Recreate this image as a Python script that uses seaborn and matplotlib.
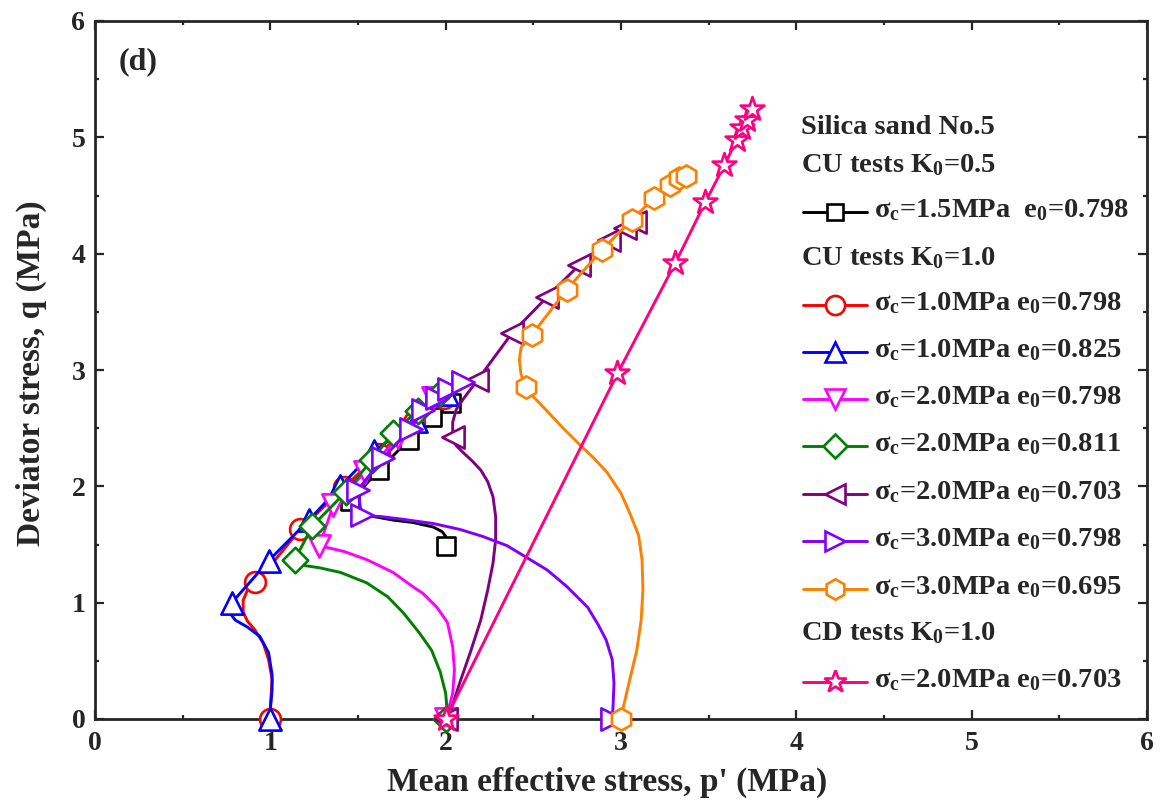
import numpy as np
import matplotlib
matplotlib.use("Agg")
import matplotlib.pyplot as plt
from matplotlib.lines import Line2D
import seaborn as sns

# ---- stress paths (p', q) in MPa ----
# K0 = 0.5 CU test
blk_p = [2.00, 2.00, 1.98, 1.93, 1.81, 1.70, 1.59, 1.51, 1.47, 1.455, 1.62, 1.79, 1.92, 2.04]
blk_q = [1.49, 1.57, 1.61, 1.65, 1.69, 1.71, 1.74, 1.78, 1.82, 1.87, 2.14, 2.40, 2.60, 2.72]
blk_mp = [2.00, 1.455, 1.62, 1.79, 1.92, 2.03]
blk_mq = [1.49, 1.87, 2.14, 2.40, 2.60, 2.72]

# K0 = 1.0 CU tests
red_p = [0.99, 1.00, 1.01, 0.99, 0.96, 0.91, 0.87, 0.845, 0.845, 0.87, 0.91, 0.98, 1.17,
         1.42, 1.62, 1.82, 1.99]
red_q = [0.00, 0.10, 0.34, 0.51, 0.65, 0.77, 0.84, 0.92, 1.02, 1.11, 1.18, 1.28, 1.63,
         1.99, 2.28, 2.55, 2.76]
red_mp = [1.00, 0.91, 1.17, 1.42, 1.62, 1.82, 1.99]
red_mq = [0.00, 1.18, 1.63, 1.99, 2.28, 2.55, 2.76]

blu_p = [0.99, 1.00, 1.01, 1.01, 0.99, 0.94, 0.87, 0.80, 0.765, 0.78, 0.88, 0.99, 1.22,
         1.40, 1.59, 1.83, 2.01]
blu_q = [0.00, 0.08, 0.25, 0.38, 0.57, 0.71, 0.79, 0.85, 0.92, 1.00, 1.17, 1.36, 1.71,
         2.00, 2.30, 2.56, 2.79]
blu_mp = [1.00, 0.78, 0.99, 1.22, 1.40, 1.59, 1.83, 2.01]
blu_mq = [0.00, 1.00, 1.36, 1.71, 2.00, 2.30, 2.56, 2.79]

mag_p = [2.00, 2.01, 2.04, 2.05, 2.04, 2.01, 1.95, 1.87, 1.81, 1.70, 1.55, 1.42, 1.28,
         1.36, 1.54, 1.73, 1.93]
mag_q = [0.00, 0.05, 0.22, 0.42, 0.62, 0.83, 0.96, 1.08, 1.14, 1.26, 1.37, 1.44, 1.49,
         1.84, 2.12, 2.42, 2.76]
mag_mp = [2.00, 1.28, 1.36, 1.54, 1.73, 1.93]
mag_mq = [0.00, 1.49, 1.84, 2.12, 2.42, 2.76]

grn_p = [2.00, 2.01, 2.00, 1.97, 1.92, 1.85, 1.76, 1.67, 1.55, 1.40, 1.28, 1.19, 1.14,
         1.24, 1.43, 1.58, 1.70, 1.84, 1.97]
grn_q = [0.00, 0.05, 0.22, 0.40, 0.59, 0.74, 0.91, 1.05, 1.17, 1.26, 1.30, 1.32, 1.37,
         1.66, 1.95, 2.23, 2.46, 2.65, 2.80]
grn_mp = [2.00, 1.14, 1.24, 1.43, 1.58, 1.70, 1.84, 1.97]
grn_mq = [0.00, 1.37, 1.66, 1.95, 2.23, 2.46, 2.65, 2.80]

pur_p = [2.00, 2.03, 2.08, 2.14, 2.20, 2.24, 2.27, 2.285, 2.285, 2.27, 2.24, 2.20, 2.15, 2.10,
         2.06, 2.04, 2.04, 2.06, 2.10, 2.15, 2.18, 2.38, 2.58, 2.76, 2.93, 3.02, 3.08]
pur_q = [0.00, 0.08, 0.31, 0.57, 0.85, 1.11, 1.34, 1.54, 1.74, 1.91, 2.04, 2.14, 2.22, 2.29,
         2.35, 2.42, 2.55, 2.66, 2.75, 2.85, 2.91, 3.32, 3.63, 3.90, 4.12, 4.22, 4.27]
pur_mp = [2.00, 2.04, 2.18, 2.38, 2.58, 2.76, 2.93, 3.02, 3.08]
pur_mq = [0.00, 2.42, 2.91, 3.32, 3.63, 3.90, 4.12, 4.22, 4.27]

vio_p = [2.95, 2.955, 2.96, 2.95, 2.915, 2.87, 2.81, 2.69, 2.58, 2.46, 2.35, 2.21, 2.08,
         1.93, 1.74, 1.63, 1.52, 1.50, 1.64, 1.80, 1.87, 1.95, 2.02, 2.10]
vio_q = [0.00, 0.12, 0.31, 0.51, 0.68, 0.81, 0.96, 1.14, 1.28, 1.39, 1.49, 1.57, 1.63,
         1.68, 1.72, 1.74, 1.75, 1.97, 2.24, 2.49, 2.66, 2.76, 2.84, 2.90]
vio_mp = [2.95, 1.52, 1.50, 1.64, 1.80, 1.87, 1.95, 2.02, 2.10]
vio_mq = [0.00, 1.75, 1.97, 2.24, 2.49, 2.66, 2.76, 2.84, 2.90]

org_p = [3.00, 3.01, 3.05, 3.09, 3.115, 3.125, 3.12, 3.10, 3.05, 3.00, 2.92, 2.84, 2.77,
         2.67, 2.57, 2.50, 2.46, 2.43, 2.42, 2.43, 2.46, 2.49, 2.69, 2.89, 3.06, 3.19,
         3.28, 3.33, 3.37]
org_q = [0.00, 0.08, 0.34, 0.59, 0.85, 1.11, 1.37, 1.58, 1.77, 1.94, 2.12, 2.25, 2.35,
         2.50, 2.66, 2.77, 2.85, 2.96, 3.09, 3.19, 3.27, 3.30, 3.69, 4.03, 4.29, 4.48,
         4.59, 4.65, 4.67]
org_mp = [3.00, 2.46, 2.49, 2.69, 2.89, 3.06, 3.19, 3.28, 3.33, 3.37]
org_mq = [0.00, 2.85, 3.30, 3.69, 4.03, 4.29, 4.48, 4.59, 4.65, 4.67]

# K0 = 1.0 CD test
pnk_p = [2.00, 2.98, 3.31, 3.48, 3.59, 3.66, 3.69, 3.72, 3.75]
pnk_q = [0.00, 2.97, 3.92, 4.44, 4.76, 4.98, 5.08, 5.15, 5.24]
pnk_mp = pnk_p
pnk_mq = pnk_q

labels = [
    r"σ$_\mathregular{c}$=1.5MPa  e$_\mathregular{0}$=0.798",
    r"σ$_\mathregular{c}$=1.0MPa e$_\mathregular{0}$=0.798",
    r"σ$_\mathregular{c}$=1.0MPa e$_\mathregular{0}$=0.825",
    r"σ$_\mathregular{c}$=2.0MPa e$_\mathregular{0}$=0.798",
    r"σ$_\mathregular{c}$=2.0MPa e$_\mathregular{0}$=0.811",
    r"σ$_\mathregular{c}$=2.0MPa e$_\mathregular{0}$=0.703",
    r"σ$_\mathregular{c}$=3.0MPa e$_\mathregular{0}$=0.798",
    r"σ$_\mathregular{c}$=3.0MPa e$_\mathregular{0}$=0.695",
    r"σ$_\mathregular{c}$=2.0MPa e$_\mathregular{0}$=0.703",
]
headers = ["Silica sand No.5",
           r"CU tests K$_\mathregular{0}$=0.5",
           r"CU tests K$_\mathregular{0}$=1.0",
           r"CD tests K$_\mathregular{0}$=1.0"]

series = [
    (blk_p, blk_q, blk_mp, blk_mq, "#000000", "s"),
    (red_p, red_q, red_mp, red_mq, "#FF0000", "o"),
    (blu_p, blu_q, blu_mp, blu_mq, "#0000FF", "^"),
    (mag_p, mag_q, mag_mp, mag_mq, "#FF00FF", "v"),
    (grn_p, grn_q, grn_mp, grn_mq, "#008000", "D"),
    (pur_p, pur_q, pur_mp, pur_mq, "#800080", "<"),
    (vio_p, vio_q, vio_mp, vio_mq, "#8000FF", ">"),
    (org_p, org_q, org_mp, org_mq, "#FF8000", "h"),
    (pnk_p, pnk_q, pnk_mp, pnk_mq, "#FF0080", "*"),
]
msize = {"s": 13, "o": 15, "^": 16, "v": 16, "D": 13, "<": 16, ">": 16, "h": 16, "*": 18}

sns.set_style("ticks")
plt.rcParams["font.family"] = ["Liberation Serif", "DejaVu Serif"]
plt.rcParams["font.weight"] = "bold"
plt.rcParams["mathtext.default"] = "regular"

W, H = 1168, 807
fig = plt.figure(figsize=(W / 100, H / 100), dpi=100)
L, R, T, B = 95, 1147, 21, 719
ax = fig.add_axes([L / W, (H - B) / H, (R - L) / W, (B - T) / H])

LW = 2.1
MEW = 1.9
for i, (px, qy, mx, my, col, mk) in enumerate(series):
    sns.lineplot(x=px, y=qy, sort=False, estimator=None, color=col, lw=LW,
                 ax=ax, zorder=3 + 2 * i)
    sns.scatterplot(x=mx, y=my, marker=mk, s=msize[mk] ** 2, facecolor="white",
                    edgecolor=col, linewidth=MEW, ax=ax, zorder=4 + 2 * i,
                    clip_on=False)

ax.set_xlim(0, 6)
ax.set_ylim(0, 6)
ax.set_xticks(np.arange(0, 7, 1))
ax.set_yticks(np.arange(0, 7, 1))
ax.set_xticks(np.arange(0, 6.01, 0.5), minor=True)
ax.set_yticks(np.arange(0, 6.01, 0.5), minor=True)
ax.tick_params(which="both", direction="in", top=True, right=True, width=1.6,
               labelsize=20)
ax.tick_params(axis="x", which="both", pad=9)
ax.tick_params(axis="y", which="both", pad=7)
ax.tick_params(which="major", length=6.5)
ax.tick_params(which="minor", length=3)
for lab in ax.get_xticklabels() + ax.get_yticklabels():
    lab.set_fontweight("bold")
for sp in ax.spines.values():
    sp.set_linewidth(2.0)
ax.set_xlabel("Mean effective stress, p' (MPa)", fontsize=24, fontweight="bold")
ax.set_ylabel("Deviator stress, q (MPa)", fontsize=24, fontweight="bold")
ax.xaxis.set_label_coords(0.487, -0.068)
ax.yaxis.set_label_coords(-0.046, 0.495)

def to_ax(x_px, y_px):
    return (x_px - L) / (R - L), (B - y_px) / (B - T)

ax.text(*to_ax(119, 62), "(d)", transform=ax.transAxes, fontsize=23,
        fontweight="bold", va="center", ha="left")

# legend block
hdr_y = [128, 165, 258, 633]
for txt, yy in zip(headers, hdr_y):
    ax.text(*to_ax(801, yy), txt, transform=ax.transAxes, fontsize=20.5,
            fontweight="bold", va="center", ha="left")

entry_y = [212, 305, 352, 399, 446, 494, 541, 589, 682]
for (px, qy, mx, my, col, mk), lab, yy in zip(series, labels, entry_y):
    x0, y0 = to_ax(803, yy)
    x1, _ = to_ax(867, yy)
    xm, _ = to_ax(835, yy)
    ax.add_line(Line2D([x0, x1], [y0, y0], transform=ax.transAxes, color=col,
                       lw=LW, clip_on=False))
    ax.add_line(Line2D([xm], [y0], transform=ax.transAxes, marker=mk,
                       markersize=msize[mk] * 0.92, markerfacecolor="white",
                       markeredgecolor=col, markeredgewidth=MEW, clip_on=False))
    ax.text(*to_ax(874, yy - 2), lab, transform=ax.transAxes, fontsize=20.5,
            fontweight="bold", va="center", ha="left")

fig.savefig("out.png", dpi=100)
